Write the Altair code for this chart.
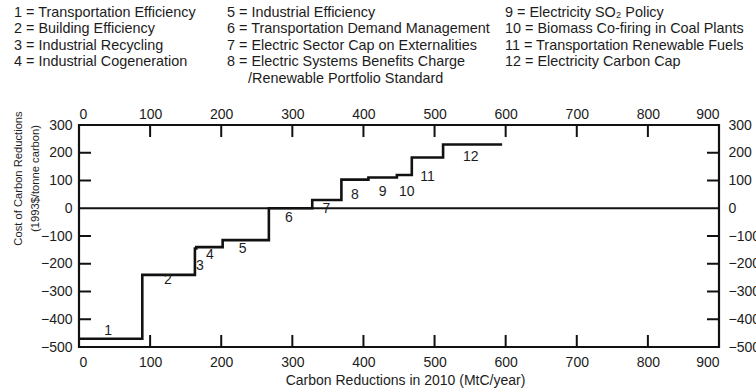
import altair as alt
import pandas as pd

# Marginal cost curve: each policy step starts at a cumulative reduction (MtC/year)
step_start = [0, 89, 163, 165, 202, 267, 328, 369, 407, 447, 468, 512]
step_cost = [-470, -240, -145, -140, -115, 0, 30, 103, 111, 120, 183, 230]
curve_end = 595

# Step number labels and where they sit on the curve
step_labels = ["1", "2", "3", "4", "5", "6", "7", "8", "9", "10", "11", "12"]
label_x = [41, 125, 170, 184, 230, 295, 348, 388, 427, 461, 490, 551]
label_y = [-442, -260, -208, -170, -146, -34, -4, 48, 57, 60, 111, 185]

# Key to the step numbers, one list per column
key_col1 = ["1 = Transportation Efficiency", "2 = Building Efficiency",
            "3 = Industrial Recycling", "4 = Industrial Cogeneration"]
key_col2 = ["5 = Industrial Efficiency", "6 = Transportation Demand Management",
            "7 = Electric Sector Cap on Externalities",
            "8 = Electric Systems Benefits Charge", "/Renewable Portfolio Standard"]
key_col3 = ["9 = Electricity SO\u2082 Policy", "10 = Biomass Co-firing in Coal Plants",
            "11 = Transportation Renewable Fuels", "12 = Electricity Carbon Cap"]

x_ticks = [0, 100, 200, 300, 400, 500, 600, 700, 800, 900]
y_ticks = [300, 200, 100, 0, -100, -200, -300, -400, -500]
x_inner_ticks = [100, 200, 300, 400, 500, 600, 700, 800]
y_inner_ticks = [200, 100, -100, -200, -300, -400]

W, H = 640, 222
FONT = "Liberation Sans"
INK = "#1c1c1c"

xs = alt.Scale(domain=[0, 900], nice=False, zero=False)
ys = alt.Scale(domain=[-500, 300], nice=False, zero=False)

curve = pd.DataFrame({"x": step_start + [curve_end],
                      "y": step_cost + [step_cost[-1]]})
labels = pd.DataFrame({"t": step_labels, "x": label_x, "y": label_y})

# Key rows laid out in pixels relative to the plot area
col_left = [-65, 148, 426]
row_top, row_gap = -112, 16.4
key_rows = []
for c, col in enumerate([key_col1, key_col2, key_col3]):
    for r, txt in enumerate(col):
        px = col_left[c] + (21 if txt.startswith("/") else 0)
        key_rows.append({"t": txt, "px": px, "py": row_top + r * row_gap})
key = pd.DataFrame(key_rows)

base_axis = dict(ticks=False, domain=False, grid=False, labelFont=FONT,
                 labelFontSize=14, labelColor=INK, titleFont=FONT,
                 titleFontSize=14, titleFontWeight="normal", titleColor=INK)


def X(field):
    return alt.X(field, scale=xs, axis=None)


def Y(field):
    return alt.Y(field, scale=ys, axis=None)


left_axis = dict(base_axis, titleFontSize=11.2)

line = alt.Chart(curve).mark_line(interpolate="step-after", color="#111",
                                  strokeWidth=2.6).encode(
    x=alt.X("x:Q", scale=xs,
            axis=alt.Axis(values=x_ticks, orient="bottom", labelPadding=8,
                          title="Carbon Reductions in 2010 (MtC/year)",
                          titleX=326, titleY=33, titleBaseline="middle",
                          **base_axis)),
    y=alt.Y("y:Q", scale=ys,
            axis=alt.Axis(values=y_ticks, orient="left", labelPadding=7,
                          title=["Cost of Carbon Reductions", "(1993$/tonne carbon)"],
                          titleX=-61, titleY=53, titleBaseline="middle",
                          titleLineHeight=17, **left_axis)),
)

# Second set of axes (top and right) sharing the same scales
mirror = alt.Chart(curve).mark_point(opacity=0).encode(
    x=alt.X("x:Q", scale=xs,
            axis=alt.Axis(values=x_ticks, orient="top", labelPadding=4,
                          title=None, **base_axis)),
    y=alt.Y("y:Q", scale=ys,
            axis=alt.Axis(values=y_ticks, orient="right", labelPadding=9,
                          title=None, labelAlign="left", **base_axis)),
)

zero = alt.Chart(pd.DataFrame({"y": [0]})).mark_rule(color="#111", strokeWidth=2).encode(
    y=Y("y:Q"), x=alt.value(0), x2=alt.value(W))

tick_style = dict(color="#111", strokeWidth=2)
xt = pd.DataFrame({"x": x_inner_ticks})
yt = pd.DataFrame({"y": y_inner_ticks})
ticks_bottom = alt.Chart(xt).mark_rule(**tick_style).encode(
    x=X("x:Q"), y=alt.value(H), y2=alt.value(H - 12))
ticks_top = alt.Chart(xt).mark_rule(**tick_style).encode(
    x=X("x:Q"), y=alt.value(0), y2=alt.value(12))
ticks_left = alt.Chart(yt).mark_rule(**tick_style).encode(
    y=Y("y:Q"), x=alt.value(0), x2=alt.value(12))
ticks_right = alt.Chart(yt).mark_rule(**tick_style).encode(
    y=Y("y:Q"), x=alt.value(W), x2=alt.value(W - 12))

step_text = alt.Chart(labels).mark_text(font=FONT, fontSize=14, color=INK,
                                        baseline="middle").encode(
    x=X("x:Q"), y=Y("y:Q"), text="t:N")

key_text = alt.Chart(key).mark_text(font=FONT, fontSize=14.4, color=INK,
                                    align="left", baseline="middle").encode(
    x=alt.X("px:Q", scale=None, axis=None), y=alt.Y("py:Q", scale=None, axis=None),
    text="t:N")

chart = alt.layer(
    zero, ticks_bottom, ticks_top, ticks_left, ticks_right,
    line, mirror, step_text, key_text,
).resolve_axis(x="independent", y="independent").properties(
    width=W, height=H,
    autosize=alt.AutoSizeParams(type="none"),
    padding={"left": 79, "top": 125, "right": 37, "bottom": 44},
    background="white",
).configure_view(stroke="#111", strokeWidth=2.2)

chart.save("out.html", embed_options={"renderer": "svg", "actions": False})
